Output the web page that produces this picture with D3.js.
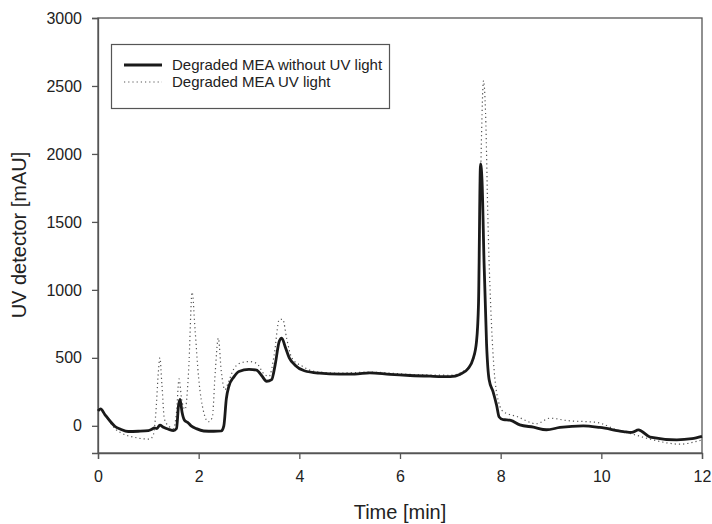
<!DOCTYPE html>
<html>
<head>
<meta charset="utf-8">
<script src="https://cdn.jsdelivr.net/npm/d3@7"></script>
<style>
  body { margin: 0; background: #fff; }
  svg text { font-family: "Liberation Sans", Arial, sans-serif; fill: #222; }
</style>
</head>
<body>
<div class="chart"></div>
<script>
// time axis values for each series [min]
const timeSolid = [0, 0.05, 0.14, 0.25, 0.34, 0.45, 0.6, 0.8, 1.0, 1.07, 1.12, 1.17, 1.23, 1.3, 1.4, 1.5, 1.56, 1.6, 1.63, 1.67, 1.72, 1.78, 1.85, 1.95, 2.1, 2.3, 2.45, 2.5, 2.55, 2.6, 2.7, 2.8, 3.0, 3.15, 3.25, 3.35, 3.45, 3.52, 3.6, 3.65, 3.72, 3.8, 3.91, 4.1, 4.4, 4.8, 5.1, 5.4, 5.8, 6.2, 6.6, 7.0, 7.2, 7.35, 7.45, 7.52, 7.56, 7.6, 7.63, 7.67, 7.72, 7.77, 7.85, 7.92, 7.97, 8.05, 8.12, 8.2, 8.38, 8.65, 8.91, 9.18, 9.64, 9.97, 10.44, 10.6, 10.74, 10.8, 10.97, 11.5, 11.8, 12];
const valSolid = [110, 125, 81, 30, -5, -25, -42, -40, -35, -25, -15, -20, 5, -10, -25, -35, -20, 150, 195, 100, 40, 25, 0, -20, -38, -40, -38, 0, 200, 290, 360, 400, 415, 410, 370, 328, 340, 450, 620, 645, 580, 500, 448, 405, 387, 380, 380, 390, 378, 370, 365, 362, 380, 420, 490, 620, 900, 1926, 1800, 1200, 600, 340, 250, 150, 65, 45, 44, 40, 7, -10, -29, -12, 0, -12, -42, -49, -30, -40, -83, -103, -95, -78];

const timeDot = [0, 0.05, 0.14, 0.25, 0.35, 0.47, 0.74, 1.03, 1.1, 1.15, 1.2, 1.23, 1.27, 1.32, 1.4, 1.5, 1.56, 1.61, 1.66, 1.73, 1.8, 1.87, 1.93, 2.0, 2.1, 2.19, 2.27, 2.33, 2.39, 2.45, 2.52, 2.6, 2.7, 2.85, 3.0, 3.15, 3.3, 3.4, 3.5, 3.6, 3.67, 3.75, 3.85, 4.07, 4.3, 4.8, 5.4, 6.2, 7.0, 7.3, 7.45, 7.55, 7.6, 7.66, 7.7, 7.75, 7.82, 7.92, 8.05, 8.32, 8.71, 8.98, 9.31, 9.91, 10.3, 10.6, 10.97, 11.56, 12];
const valDot = [110, 125, 81, 20, -25, -54, -86, -98, -66, 100, 400, 500, 300, 50, 0, -20, 100, 345, 200, 120, 400, 983, 700, 350, 100, 30, 60, 400, 645, 400, 265, 330, 420, 465, 473, 460, 380, 365, 520, 780, 784, 640, 500, 436, 400, 388, 395, 378, 372, 410, 480, 800, 1800, 2539, 2300, 1465, 730, 243, 105, 69, 15, 56, 39, 25, -29, -59, -98, -135, -103];

const xTicks = [0, 2, 4, 6, 8, 10, 12];
const yTicks = [0, 500, 1000, 1500, 2000, 2500, 3000];
const legendLabels = ["Degraded MEA without UV light", "Degraded MEA UV light"];

const width = 712, height = 524;
const margin = { left: 98, right: 10, top: 18, bottom: 71 };

const svg = d3.select('.chart').append('svg')
  .attr('width', width)
  .attr('height', height);

const x = d3.scaleLinear().domain([0, 12]).range([margin.left, width - margin.right]);
const y = d3.scaleLinear().domain([-200, 3000]).range([height - margin.bottom, margin.top]);

// frame
svg.append('rect')
  .attr('x', x(0)).attr('y', y(3000))
  .attr('width', x(12) - x(0)).attr('height', y(-200) - y(3000))
  .attr('fill', 'none').attr('stroke', '#555').attr('stroke-width', 1.3);

// axes
const xAxis = svg.append('g')
  .attr('transform', `translate(0,${y(-200)})`)
  .call(d3.axisBottom(x).tickValues(xTicks).tickSize(6).tickPadding(12).tickFormat(d3.format('d')));
const yAxis = svg.append('g')
  .attr('transform', `translate(${x(0)},0)`)
  .call(d3.axisLeft(y).tickValues(yTicks).tickSize(6).tickPadding(10).tickFormat(d3.format('d')));

[xAxis, yAxis].forEach(g => {
  g.select('.domain').attr('stroke', '#555').attr('stroke-width', 1.3);
  g.selectAll('.tick line').attr('stroke', '#555').attr('stroke-width', 1.3);
  g.selectAll('.tick text').style('font-size', '16px').attr('fill', '#222');
});

// axis titles
svg.append('text')
  .attr('x', 400).attr('y', 519)
  .attr('text-anchor', 'middle')
  .style('font-size', '20px')
  .text('Time [min]');
svg.append('text')
  .attr('transform', `translate(26,235) rotate(-90)`)
  .attr('text-anchor', 'middle')
  .style('font-size', '20px')
  .text('UV detector [mAU]');

const line = d3.line()
  .x(d => x(d[0]))
  .y(d => y(d[1]))
  .curve(d3.curveMonotoneX);

const dotData = timeDot.map((t, i) => [t, valDot[i]]);
const solidData = timeSolid.map((t, i) => [t, valSolid[i]]);

svg.append('path')
  .attr('d', line(dotData))
  .attr('fill', 'none')
  .attr('stroke', '#555')
  .attr('stroke-width', 1.2)
  .attr('stroke-dasharray', '1.2,3');

svg.append('path')
  .attr('d', line(solidData))
  .attr('fill', 'none')
  .attr('stroke', '#1a1a1a')
  .attr('stroke-width', 2.8)
  .attr('stroke-linejoin', 'round');

// legend
const legend = svg.append('g');
legend.append('rect')
  .attr('x', 111.5).attr('y', 44.5)
  .attr('width', 278).attr('height', 64)
  .attr('fill', '#fff').attr('stroke', '#555').attr('stroke-width', 1.2);

legendLabels.forEach((label, i) => {
  const ly = 65 + i * 17;
  legend.append('line')
    .attr('x1', 124).attr('x2', 162)
    .attr('y1', ly).attr('y2', ly)
    .attr('stroke', i === 0 ? '#1a1a1a' : '#555')
    .attr('stroke-width', i === 0 ? 2.8 : 1.2)
    .attr('stroke-dasharray', i === 0 ? null : '1.2,3');
  legend.append('text')
    .attr('x', 172).attr('y', ly + 5)
    .style('font-size', '15px')
    .text(label);
});
</script>
</body>
</html>
